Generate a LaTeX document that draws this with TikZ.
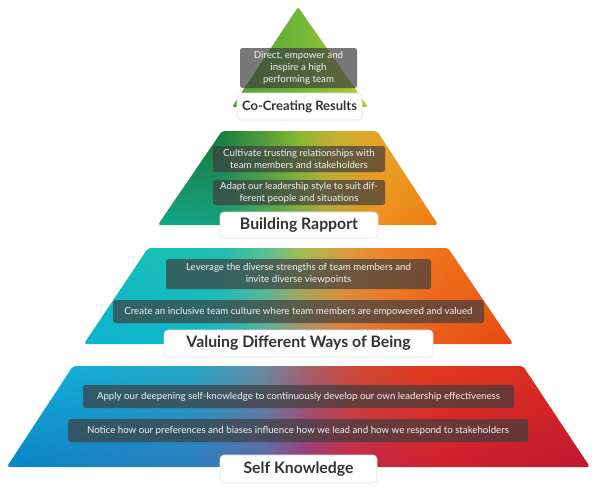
\documentclass[tikz,border=0pt]{standalone}
\usepackage{fontspec}
\setmainfont{Lato}
\usetikzlibrary{fadings}
% tier 1 colours
\definecolor{ga}{HTML}{4F9F32}
\definecolor{gb}{HTML}{72B838}
\definecolor{gc}{HTML}{BCC82A}
% tier 2
\definecolor{ba}{HTML}{1A7A3A}
\definecolor{bb}{HTML}{4A9A38}
\definecolor{bc}{HTML}{8AB830}
\definecolor{bd}{HTML}{C8B030}
\definecolor{be}{HTML}{E6A428}
\definecolor{bf}{HTML}{12A88C}
\definecolor{bg}{HTML}{18A080}
\definecolor{bh}{HTML}{60A850}
\definecolor{bi}{HTML}{B0A840}
\definecolor{bj}{HTML}{F09020}
\definecolor{bk}{HTML}{F07A12}
% tier 3
\definecolor{ca}{HTML}{18C0B8}
\definecolor{cb}{HTML}{1EC0B0}
\definecolor{cc}{HTML}{60C090}
\definecolor{cd}{HTML}{A0C050}
\definecolor{ce}{HTML}{D8A040}
\definecolor{cf}{HTML}{F08828}
\definecolor{cg}{HTML}{F07018}
\definecolor{ch}{HTML}{10B2D2}
\definecolor{ci}{HTML}{12B8C8}
\definecolor{cj}{HTML}{50B0A0}
\definecolor{ck}{HTML}{A89070}
\definecolor{cl}{HTML}{D88040}
\definecolor{cm}{HTML}{EA6020}
\definecolor{cn}{HTML}{E84810}
% tier 4
\definecolor{da}{HTML}{12AFD8}
\definecolor{db}{HTML}{28A6C6}
\definecolor{dc}{HTML}{6A8AA0}
\definecolor{dd}{HTML}{A86068}
\definecolor{de}{HTML}{D04A35}
\definecolor{df}{HTML}{E03A1C}
\definecolor{dg}{HTML}{D82A22}
\definecolor{dh}{HTML}{0A85C5}
\definecolor{di}{HTML}{2C7CBE}
\definecolor{dj}{HTML}{5A68AA}
\definecolor{dk}{HTML}{9A3A80}
\definecolor{dl}{HTML}{C02A50}
\definecolor{dm}{HTML}{D02030}
\definecolor{dn}{HTML}{C01830}
\definecolor{boxgray}{HTML}{3E3E3E}
\definecolor{labeltext}{HTML}{333333}
\definecolor{bodytext}{HTML}{F2F2F2}

\pgfdeclarehorizontalshading{tone}{100bp}{color(0bp)=(ga); color(25bp)=(ga); color(50bp)=(gb); color(75bp)=(gc); color(100bp)=(gc)}
\pgfdeclarehorizontalshading{ttwotop}{100bp}{color(0bp)=(ba); color(36bp)=(ba); color(43bp)=(bb); color(50bp)=(bc); color(57bp)=(bd); color(64bp)=(be); color(100bp)=(be)}
\pgfdeclarehorizontalshading{ttwobot}{100bp}{color(0bp)=(bf); color(25bp)=(bf); color(36bp)=(bg); color(47bp)=(bh); color(54bp)=(bi); color(64.6bp)=(bj); color(75bp)=(bk); color(100bp)=(bk)}
\pgfdeclarehorizontalshading{tthreetop}{100bp}{color(0bp)=(ca); color(32bp)=(ca); color(41bp)=(cb); color(46.7bp)=(cc); color(50.2bp)=(cd); color(54.8bp)=(ce); color(59.5bp)=(cf); color(67.4bp)=(cg); color(100bp)=(cg)}
\pgfdeclarehorizontalshading{tthreebot}{100bp}{color(0bp)=(ch); color(25bp)=(ch); color(38.5bp)=(ci); color(45.5bp)=(cj); color(50.2bp)=(ck); color(54.8bp)=(cl); color(64.2bp)=(cm); color(75bp)=(cn); color(100bp)=(cn)}
\pgfdeclarehorizontalshading{tfourtop}{100bp}{color(0bp)=(da); color(30bp)=(da); color(41bp)=(db); color(47bp)=(dc); color(51bp)=(dd); color(55bp)=(de); color(61bp)=(df); color(75bp)=(dg); color(100bp)=(dg)}
\pgfdeclarehorizontalshading{tfourbot}{100bp}{color(0bp)=(dh); color(25bp)=(dh); color(41bp)=(di); color(47bp)=(dj); color(50.5bp)=(dk); color(54bp)=(dl); color(62bp)=(dm); color(75bp)=(dn); color(100bp)=(dn)}

\tikzset{
  tierpath/.style={rounded corners=3pt},
  dbox/.style={fill=boxgray, fill opacity=0.7, text opacity=1, text=bodytext,
    rounded corners=2.5pt, inner sep=0pt, align=center,
    font=\fontsize{9.7}{11.8}\selectfont},
  lbox/.style={fill=white, draw=black!12, line width=0.6pt, rounded corners=4pt,
    inner sep=0pt, text=labeltext, font=\fontsize{15.8}{17}\selectfont\bfseries},
  toplabel/.style={font=\fontsize{13}{15}\selectfont\bfseries},
}

\begin{document}
\begin{tikzpicture}[x=1pt,y=-1pt]
\useasboundingbox (0,0) rectangle (600,493);
% ---------- tier 1 ----------
\coordinate (t1a) at (298,7);
\coordinate (t1l) at (232,107);
\coordinate (t1r) at (368,107);
\shade[shading=tone, rounded corners=2pt] (t1l) -- (t1a) -- (t1r) -- cycle;
% ---------- tier 2 ----------
\coordinate (t2tl) at (222,131);
\coordinate (t2tr) at (377,131);
\coordinate (t2br) at (438,225);
\coordinate (t2bl) at (158,225);
\shade[shading=ttwotop, tierpath] (t2tl) -- (t2tr) -- (t2br) -- (t2bl) -- cycle;
\shade[shading=ttwobot, tierpath, path fading=north] (t2tl) -- (t2tr) -- (t2br) -- (t2bl) -- cycle;
% ---------- tier 3 ----------
\coordinate (t3tl) at (148,248);
\coordinate (t3tr) at (448,248);
\coordinate (t3br) at (513,344);
\coordinate (t3bl) at (84,344);
\shade[shading=tthreetop, tierpath] (t3tl) -- (t3tr) -- (t3br) -- (t3bl) -- cycle;
\shade[shading=tthreebot, tierpath, path fading=north] (t3tl) -- (t3tr) -- (t3br) -- (t3bl) -- cycle;
% ---------- tier 4 ----------
\coordinate (t4tl) at (73,366);
\coordinate (t4tr) at (523,366);
\coordinate (t4br) at (590,467);
\coordinate (t4bl) at (7,467);
\shade[shading=tfourtop, tierpath] (t4tl) -- (t4tr) -- (t4br) -- (t4bl) -- cycle;
\shade[shading=tfourbot, tierpath, path fading=north] (t4tl) -- (t4tr) -- (t4br) -- (t4bl) -- cycle;

% ---------- text boxes ----------
\node[dbox, minimum width=117pt, minimum height=40pt] (b1) at (298.5,68) {Direct, empower and\\inspire a high\\performing team};
\node[lbox, toplabel, minimum width=125pt, minimum height=27pt] (l1) at (299.5,106.5) {Co-Creating Results};

\node[dbox, minimum width=172pt, minimum height=26pt] (b2a) at (299,159) {Cultivate trusting relationships with\\team members and stakeholders};
\node[dbox, minimum width=172pt, minimum height=25pt] (b2b) at (299,192.5) {Adapt our leadership style to suit dif-\\ferent people and situations};
\node[lbox, minimum width=158pt, minimum height=26pt] (l2) at (299,225) {Building Rapport};

\node[dbox, minimum width=265pt, minimum height=30pt] (b3a) at (298.5,274) {Leverage the diverse strengths of team members and\\invite diverse viewpoints};
\node[dbox, minimum width=371pt, minimum height=23pt] (b3b) at (298.5,311.5) {Create an inclusive team culture where team members are empowered and valued};
\node[lbox, minimum width=269pt, minimum height=27pt] (l3) at (298.5,343.5) {Valuing Different Ways of Being};

\node[dbox, minimum width=431pt, minimum height=23pt] (b4a) at (298.5,396.5) {Apply our deepening self-knowledge to continuously develop our own leadership effectiveness};
\node[dbox, minimum width=460pt, minimum height=23pt] (b4b) at (298,430.5) {Notice how our preferences and biases influence how we lead and how we respond to stakeholders};
\node[lbox, minimum width=157pt, minimum height=28pt] (l4) at (298.5,469) {Self Knowledge};
\end{tikzpicture}
\end{document}
